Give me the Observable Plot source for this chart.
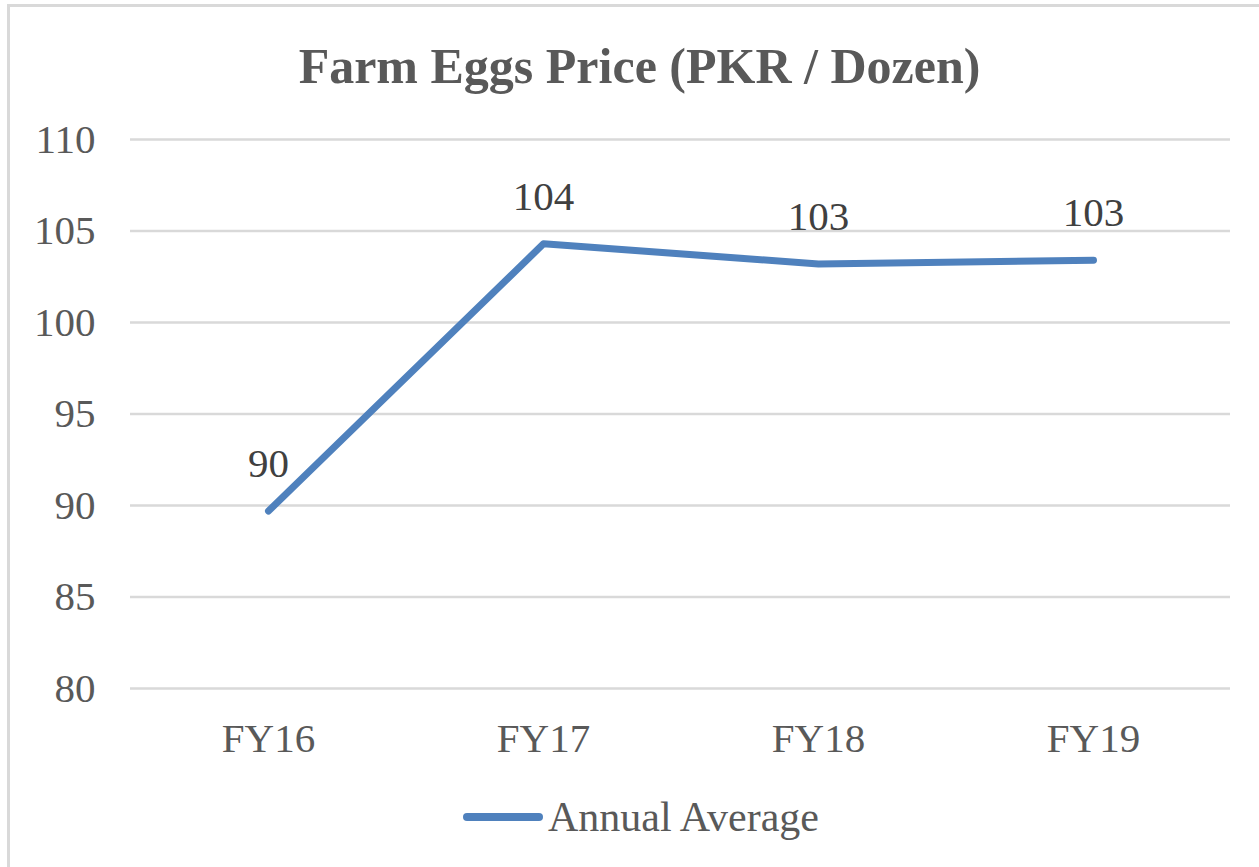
<!DOCTYPE html>
<html>
<head>
<meta charset="utf-8">
<script src="https://cdn.jsdelivr.net/npm/d3@7"></script>
<script src="https://cdn.jsdelivr.net/npm/@observablehq/plot@0.6"></script>
<style>
  html, body { margin: 0; padding: 0; background: #fff; }
  #wrap { position: relative; width: 1259px; height: 867px; overflow: hidden; font-family: "Liberation Serif", "Times New Roman", serif; }
  #frame { position: absolute; left: 7px; top: 4px; width: 1300px; height: 900px; border-left: 3px solid #d9d9d9; border-top: 3px solid #d9d9d9; box-sizing: border-box; }
  #title { position: absolute; left: 10px; width: 1259px; top: 36px; text-align: center; font-size: 50px; font-weight: bold; color: #595959; line-height: 60px; }
  #chart { position: absolute; left: 0; top: 100px; }
  #legend { position: absolute; left: 463px; top: 792px; display: flex; align-items: center; font-size: 42px; color: #595959; line-height: 50px; }
  #legend .sw { width: 80px; height: 8px; background: #4f81bd; border-radius: 4px; margin-right: 5px; }
</style>
</head>
<body>
<div id="wrap">
  <div id="frame"></div>
  <div id="title">Farm Eggs Price (PKR / Dozen)</div>
  <div id="chart"></div>
  <div id="legend"><div class="sw"></div><span>Annual Average</span></div>
</div>
<script>
const years = ["FY16", "FY17", "FY18", "FY19"];
const prices = [89.7, 104.3, 103.2, 103.4];
const priceLabels = ["90", "104", "103", "103"];
const yTicks = [80, 85, 90, 95, 100, 105, 110];

const data = years.map((y, i) => ({year: y, price: prices[i], label: priceLabels[i]}));

const chart = Plot.plot({
  width: 1259,
  height: 670,
  marginLeft: 130,
  marginRight: 29,
  marginTop: 39,
  marginBottom: 82,
  style: {fontFamily: "'Liberation Serif', 'Times New Roman', serif", fontSize: "41px", color: "#595959", background: "transparent", overflow: "visible"},
  x: {type: "point", domain: years, padding: 0.5, label: null},
  y: {domain: [80, 110], ticks: yTicks, label: null},
  marks: [
    Plot.ruleY(yTicks, {stroke: "#d9d9d9", strokeWidth: 2.5, strokeOpacity: 1}),
    Plot.axisY({ticks: yTicks, tickSize: 0, tickPadding: 35, label: null, fill: "#595959", fontSize: 41}),
    Plot.axisX({tickSize: 0, tickPadding: 34, label: null, fill: "#595959", fontSize: 41}),
    Plot.line(data, {x: "year", y: "price", stroke: "#4f81bd", strokeWidth: 7, strokeLinecap: "round", strokeLinejoin: "round"}),
    Plot.text(data, {x: "year", y: "price", text: "label", dy: -47, fill: "#404040", fontSize: 41})
  ]
});
document.getElementById("chart").appendChild(chart);
</script>
</body>
</html>
